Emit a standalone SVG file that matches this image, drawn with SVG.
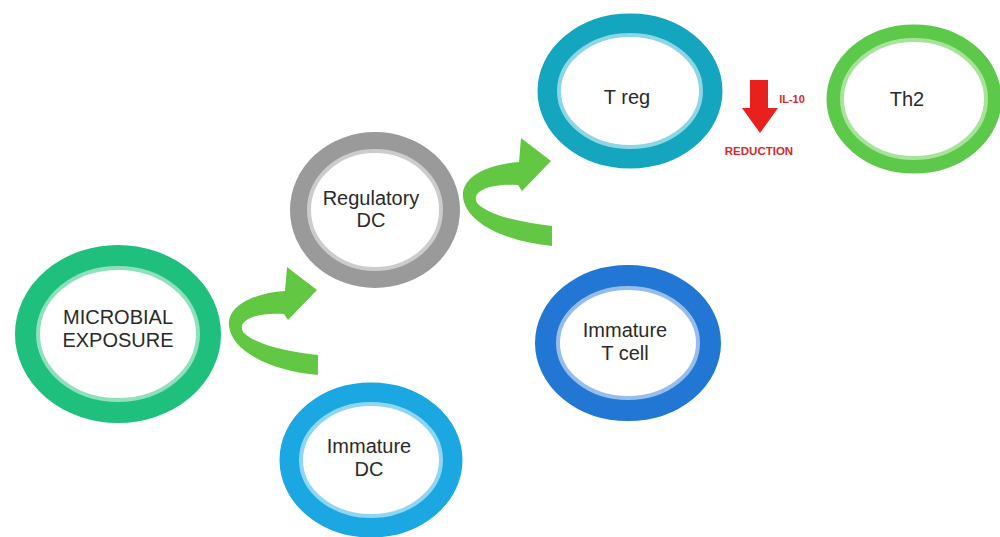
<svg xmlns="http://www.w3.org/2000/svg" xmlns:xlink="http://www.w3.org/1999/xlink" width="1000" height="537" viewBox="0 0 1000 537">
  <style>
    .ring { fill: #ffffff; }
    .edge { fill: none; stroke-width: 4; }
    .label { font-family: "Liberation Sans", Arial, sans-serif; font-size: 20px; fill: #2a2a2a; text-anchor: middle; }
    .red { font-family: "Liberation Sans", Arial, sans-serif; font-weight: bold; fill: #d22a2a; text-anchor: middle; }
  </style>
  <defs>
    <!-- curved ribbon arrow: runs left along the bottom, loops up and points right -->
    <path id="curl" d="M318,375 L318,355 C290,352 256,345 244,333 C236,323 250,312 284,314 L288,320 L317,290 L287,267 L285,291 C255,293 227,305 229,326 C232,353 274,371 318,375 Z"/>
  </defs>
  <rect width="1000" height="537" fill="#ffffff"/>

  <!-- connectors -->
  <g id="connectors" fill="#62c844">
    <use xlink:href="#curl"/>
    <use xlink:href="#curl" transform="translate(234,-129)"/>
    <g id="il10-reduction">
      <path d="M750,80 L768,80 L768,108 L778,108 L760,133 L742,108 L750,108 Z" fill="#e8211e"/>
      <text class="red" x="792" y="103" font-size="11">IL-10</text>
      <text class="red" x="759" y="155" font-size="11.5">REDUCTION</text>
    </g>
  </g>

  <g id="microbial-exposure">
    <ellipse class="ring" cx="118" cy="334" rx="92" ry="78" stroke="#1fbf7d" stroke-width="22"/>
    <ellipse class="edge" cx="118" cy="334" rx="80" ry="66" stroke="#8fe0bd"/>
    <text class="label" x="118" y="324">MICROBIAL</text>
    <text class="label" x="118" y="347">EXPOSURE</text>
  </g>

  <g id="immature-dc">
    <ellipse class="ring" cx="371" cy="460" rx="81" ry="67" stroke="#1aa7e2" stroke-width="21"/>
    <ellipse class="edge" cx="371" cy="460" rx="70" ry="56" stroke="#8fd6f3"/>
    <text class="label" x="369" y="453">Immature</text>
    <text class="label" x="369" y="476">DC</text>
  </g>

  <g id="regulatory-dc">
    <ellipse class="ring" cx="375" cy="210" rx="76" ry="69" stroke="#9a9a9a" stroke-width="18"/>
    <ellipse class="edge" cx="375" cy="210" rx="66" ry="59" stroke="#cccccc"/>
    <text class="label" x="371" y="205">Regulatory</text>
    <text class="label" x="371" y="227">DC</text>
  </g>

  <g id="t-reg">
    <ellipse class="ring" cx="630" cy="91" rx="82" ry="67" stroke="#14a5bf" stroke-width="21"/>
    <ellipse class="edge" cx="630" cy="91" rx="71" ry="56" stroke="#8dd6e3"/>
    <text class="label" x="627" y="104">T reg</text>
  </g>

  <g id="immature-t-cell">
    <ellipse class="ring" cx="628" cy="343" rx="82" ry="67" stroke="#2277d4" stroke-width="22"/>
    <ellipse class="edge" cx="628" cy="343" rx="70" ry="55" stroke="#96bdec"/>
    <text class="label" x="625" y="337">Immature</text>
    <text class="label" x="625" y="360">T cell</text>
  </g>

  <g id="th2">
    <ellipse class="ring" cx="914" cy="99" rx="80" ry="67" stroke="#5dc94a" stroke-width="15"/>
    <ellipse class="edge" cx="914" cy="99" rx="72" ry="59" stroke="#a8e39b"/>
    <text class="label" x="907" y="106">Th2</text>
  </g>
</svg>
